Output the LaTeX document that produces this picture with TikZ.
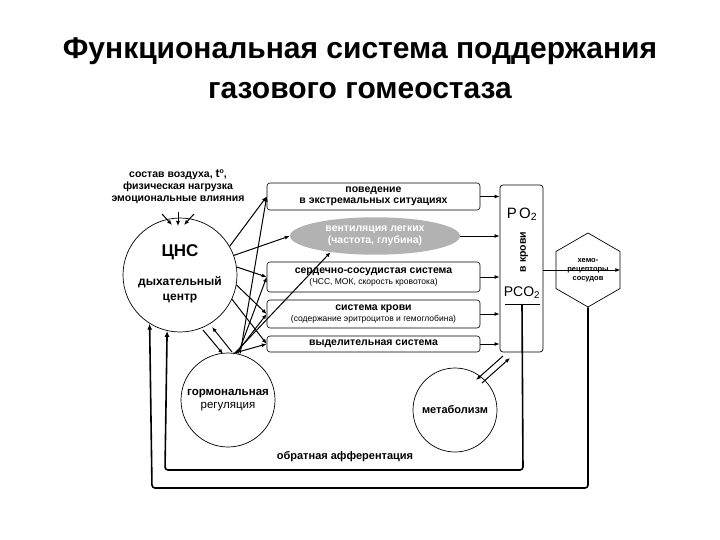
\documentclass[tikz,border=0pt]{standalone}
\usepackage{fontspec}
\setmainfont{Liberation Sans}
\usetikzlibrary{shapes.geometric,arrows.meta}
\begin{document}
\begin{tikzpicture}[x=1pt,y=-1pt,
 box/.style={draw,rounded corners=3pt,line width=0.6pt,minimum width=213pt,inner sep=1pt,align=center,font=\bfseries\fontsize{10.5}{11}\selectfont},
 circ/.style={draw,circle,line width=0.7pt,align=center,font=\bfseries\fontsize{11.5}{13}\selectfont,inner sep=0pt},
 ar/.style={-{Latex[length=5pt,width=4pt]},line width=1pt},
 fb/.style={line width=1.6pt,rounded corners=3pt}]
\useasboundingbox (0,0) rectangle (720,540);
\node[font=\bfseries\fontsize{30}{40}\selectfont,align=center] (title) at (360,68) {Функциональная система поддержания\\газового гомеостаза};
\node[font=\bfseries\fontsize{10.5}{15}\selectfont,align=center] (inp) at (178,187) {состав воздуха, {\large t}\raisebox{4pt}{\scriptsize o},\\[-3pt]физическая нагрузка\\[-3pt]эмоциональные влияния};
\node[circ,minimum size=114pt] (cns) at (180,275) {};
\node[font=\bfseries\fontsize{17}{19}\selectfont] (cnst) at (180,252) {ЦНС};
\node[font=\bfseries\fontsize{12}{15}\selectfont,align=center] (cnsd) at (180,290) {дыхательный\\центр};
\coordinate (i1) at (162,214); \coordinate (i2) at (178,212); \coordinate (i3) at (194,214);
\coordinate (j1) at (172,225); \coordinate (j2) at (178,226); \coordinate (j3) at (184,225);
\draw[ar] (i1)--(j1); \draw[ar] (i2)--(j2); \draw[ar] (i3)--(j3);
\node[box,minimum height=27pt] (b1) at (373.5,196.5) {поведение\\в экстремальных ситуациях};
\node[ellipse,fill=gray!60,minimum width=170pt,minimum height=36pt,align=center,text=white,font=\bfseries\fontsize{10.5}{12}\selectfont] (b2) at (375,236) {вентиляция легких\\(частота, глубина)};
\node[box,minimum height=30pt] (b3) at (373.5,277) {сердечно-сосудистая система\\{\mdseries\fontsize{8.5}{10}\selectfont (ЧСС, МОК, скорость кровотока)}};
\node[box,minimum height=28pt] (b4) at (373.5,314) {система крови\\{\mdseries\fontsize{8.5}{10}\selectfont (содержание эритроцитов и гемоглобина)}};
\node[box,minimum height=16pt] (b5) at (373.5,344) {выделительная система};
\node[draw,rounded corners=3pt,line width=0.7pt,minimum width=43pt,minimum height=167pt] (col) at (521.5,268.5) {};
\node (po2) at (522,214) {\fontsize{15}{16}\selectfont P\,O\textsubscript{2}};
\node (pco2) at (522,293) {\fontsize{14}{16}\selectfont PCO\textsubscript{2}};
\node[rotate=90,font=\bfseries\fontsize{10.5}{11}\selectfont] (vk) at (524,252) {в крови};
\coordinate (u1) at (505,304); \coordinate (u2) at (540,304);
\draw[line width=0.5pt] (u1)--(u2);
\node[draw,regular polygon,regular polygon sides=6,rotate=90,minimum size=74pt,line width=0.7pt] (hex) at (588,270) {};
\node[align=center,font=\bfseries\fontsize{7.5}{9}\selectfont] (hext) at (588,270) {хемо-\\рецепторы\\сосудов};
\node[circ,minimum size=94pt] (hor) at (228,400) {гормональная\\{\mdseries регуляция}};
\node[circ,minimum size=84pt,font=\bfseries\fontsize{11}{12}\selectfont] (met) at (455,410) {метаболизм};
% CNS and hormonal to boxes
\foreach \b/\a in {b1/30,b3/8,b4/-10,b5/-25}{\draw[ar] (cns.\a) -- (\b.west);}
\draw[ar] (cns.20) -- (b2.west);
\foreach \b/\d in {b1/4,b3/2,b4/0,b5/-3}{\draw[ar] ([xshift=\d pt]hor.80) -- (\b.west);}
\draw[ar] ([xshift=3pt]hor.85) -- (b2.200);
\coordinate (ch1) at (203,330); \coordinate (ch2) at (223,354);
\coordinate (ch3) at (212,327); \coordinate (ch4) at (232,352);
\draw[ar] (ch1)--(ch2); \draw[ar] (ch4)--(ch3);
% boxes to column
\foreach \b in {b1,b3,b4,b5}{\draw[ar] (\b.east) -- (\b.east -| col.west);}
\draw[ar] (b2.east) -- (b2.east -| col.west);
\draw[ar] (col.east |- hex) -- (hex.south);
% metabolism double arrows
\coordinate (m1) at (503,356); \coordinate (m2) at (476,380);
\coordinate (m3) at (482,383); \coordinate (m4) at (510,358);
\draw[ar] (m1)--(m2); \draw[ar] (m3)--(m4);
% feedback
\coordinate (f1) at (523,470); \coordinate (f2) at (165,470);
\draw[fb,-{Latex[length=6pt,width=5pt]}] (u1 -| pco2) -- (f1) -- (f2) -- (cns.257);
\coordinate (g1) at (588,488); \coordinate (g2) at (152,488);
\draw[fb,-{Latex[length=6pt,width=5pt]}] (hex.west) -- (g1) -- (g2) -- (cns.238);
\node[font=\bfseries\fontsize{11}{12}\selectfont] (obr) at (345,457) {обратная афферентация};
\end{tikzpicture}
\end{document}
